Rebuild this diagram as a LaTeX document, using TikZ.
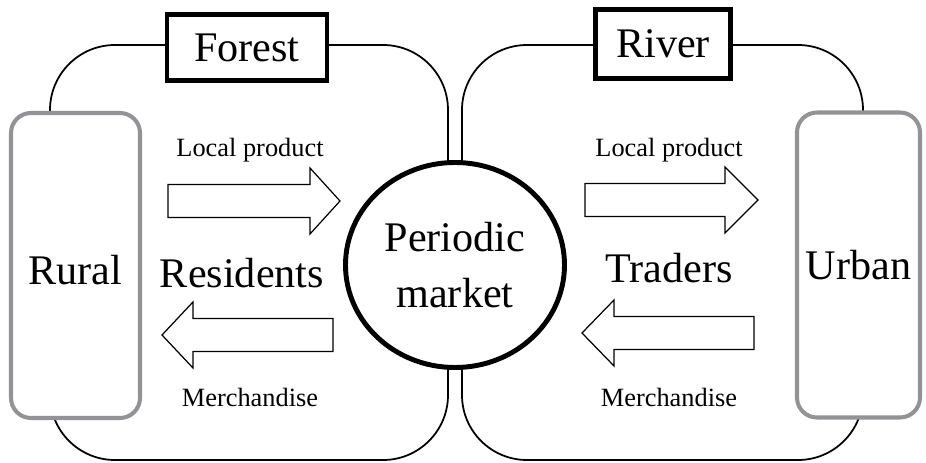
\documentclass[tikz,border=0pt]{standalone}
\usepackage{fontspec}
\setmainfont{Liberation Serif}
\usetikzlibrary{shapes.geometric}
\definecolor{boxgray}{RGB}{146,147,151}
\begin{document}
\begin{tikzpicture}[thick,
    place/.style={draw,line width=2.8pt,fill=white,font=\fontsize{24}{28}\selectfont},
    side/.style={draw=boxgray,line width=2.3pt,rounded corners=0.4cm,fill=white,
      minimum height=6.1cm,font=\fontsize{24}{28}\selectfont},
    flow/.style={line width=0.7pt,fill=white},
    big/.style={font=\fontsize{24}{28}\selectfont,anchor=base},
    small/.style={font=\fontsize{15}{18}\selectfont,anchor=base}]
  \useasboundingbox (0,0) rectangle (18.52,9.26);
  % the two areas
  \draw[line width=1pt,rounded corners=1.3cm] (1.00,0.06) rectangle (8.96,8.36);
  \draw[line width=1pt,rounded corners=1.3cm] (9.24,0.06) rectangle (17.26,8.36);
  \node[place,minimum width=3.2cm,minimum height=1.32cm] (forest) at (4.94,8.31) {Forest};
  \node[place,minimum width=2.7cm,minimum height=1.38cm] (river) at (13.26,8.38) {River};
  \node[side,minimum width=2.58cm,text height=0.78cm] (rural) at (1.51,3.95) {Rural};
  \node[side,minimum width=2.46cm] (urban) at (17.17,3.96) {Urban};
  \node[ellipse,draw,line width=2.8pt,fill=white,minimum width=4.38cm,minimum height=4.10cm,
    inner sep=0pt,align=center,font=\fontsize{24}{32}\selectfont] (market) at (9.10,3.96)
    {Periodic\\market};
  % block arrows
  \foreach \tail/\base/\tip/\y in {3.36/6.20/6.80/5.24, 11.70/14.50/15.16/5.26,
      6.66/3.86/3.24/2.56, 15.08/12.28/11.64/2.60}
    \draw[flow] (\tail,\y-0.33) -- (\base,\y-0.33) -- (\base,\y-0.66) -- (\tip,\y)
      -- (\base,\y+0.66) -- (\base,\y+0.33) -- (\tail,\y+0.33) -- cycle;
  \node[small] (lpleft) at (5.00,6.12) {Local product};
  \node[small] (lpright) at (13.38,6.12) {Local product};
  \node[small] (mdleft) at (5.00,1.14) {Merchandise};
  \node[small] (mdright) at (13.38,1.14) {Merchandise};
  \node[big] (residents) at (4.84,3.50) {Residents};
  \node[big] (traders) at (13.38,3.60) {Traders};
\end{tikzpicture}
\end{document}
